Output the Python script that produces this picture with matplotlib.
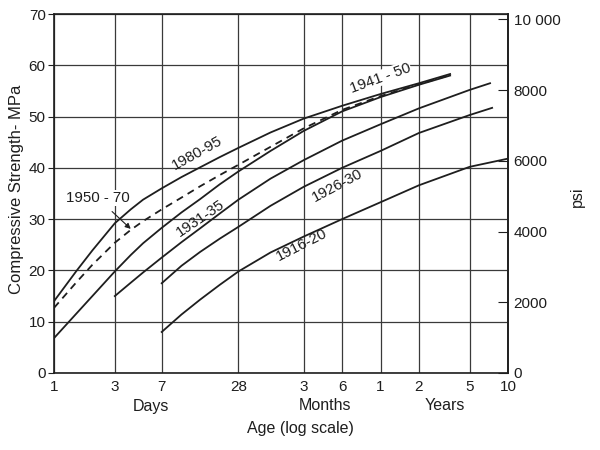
import matplotlib
matplotlib.use('Agg')
from matplotlib import pyplot as plt
from matplotlib.ticker import FixedLocator, FixedFormatter, NullLocator

plt.rcParams['font.family'] = ['Liberation Sans', 'DejaVu Sans']

# ages in days, strengths in MPa
d_1980 = [1, 1.5, 2, 3, 4, 5, 7, 10, 14, 20, 28, 50, 91, 182, 365, 730, 1283]
s_1980 = [14.0, 19.9, 23.9, 29.2, 31.9, 33.8, 36.0, 38.2, 40.1, 42.1, 43.9, 46.9, 49.6, 52.1, 54.4, 56.5, 58.3]

d_1950 = [1, 1.5, 2, 3, 4, 5, 7, 10, 14, 20, 28, 50, 91, 182, 365, 730, 1283]
s_1950 = [12.7, 17.7, 21.1, 25.4, 27.9, 29.6, 31.9, 34.2, 36.4, 38.6, 40.6, 44.1, 47.7, 51.3, 54.0, 56.3, 58.1]

d_1941 = [1, 1.5, 2, 3, 4, 5, 7, 10, 14, 20, 28, 50, 91, 182, 365, 730, 1283]
s_1941 = [6.8, 11.6, 15.0, 19.8, 23.0, 25.3, 28.3, 31.3, 33.9, 36.8, 39.3, 43.3, 47.2, 51.0, 53.8, 56.2, 58.0]

d_1931 = [3, 4, 5, 7, 10, 14, 20, 28, 50, 91, 182, 365, 730, 1825, 2640]
s_1931 = [15.0, 17.6, 19.6, 22.5, 25.5, 28.2, 31.1, 33.8, 37.9, 41.5, 45.3, 48.5, 51.6, 55.2, 56.5]

d_1926 = [7, 10, 14, 20, 28, 50, 91, 182, 365, 730, 1825, 2740]
s_1926 = [17.5, 20.9, 23.6, 26.2, 28.5, 32.6, 36.3, 40.0, 43.3, 46.8, 50.3, 51.7]

d_1916 = [7, 10, 14, 20, 28, 50, 91, 182, 365, 730, 1825, 3650]
s_1916 = [8.0, 11.4, 14.3, 17.2, 19.8, 23.5, 26.6, 30.0, 33.3, 36.6, 40.2, 41.8]

age_ticks  = [1, 3, 7, 28, 91, 182, 365, 730, 1825, 3650]
age_labels = ['1', '3', '7', '28', '3', '6', '1', '2', '5', '10']
mpa_ticks  = [0, 10, 20, 30, 40, 50, 60, 70]
psi_ticks  = [0, 2000, 4000, 6000, 8000, 10000]
psi_labels = ['0', '2000', '4000', '6000', '8000', '10 000']

ink  = '#1e1e1e'
grid = '#3a3a3a'
fs   = 11      # tick labels
fl   = 11.5    # axis texts
fc   = 10.8    # curve labels

fig = plt.figure(figsize=(6, 4.5), dpi=100)
ax = fig.add_axes([54/600, 1-373/450, 454/600, 359/450])

ax.set_xscale('log')
ax.set_xlim(1, 3650)
ax.set_ylim(0, 70)

ax.xaxis.set_major_locator(FixedLocator(age_ticks))
ax.xaxis.set_major_formatter(FixedFormatter(age_labels))
ax.xaxis.set_minor_locator(NullLocator())
ax.set_yticks(mpa_ticks)
ax.tick_params(axis='x', length=0, pad=5, labelsize=fs, colors=ink)
ax.tick_params(axis='y', direction='out', length=4, pad=2, labelsize=fs, colors=ink)
ax.grid(True, color=grid, lw=0.9)
for s in ax.spines.values():
	s.set_color(ink), s.set_linewidth(1.2)

lw = 1.3
ax.plot(d_1980, s_1980, color=ink, lw=lw)
ax.plot(d_1950, s_1950, color=ink, lw=lw, ls=(0, (4, 3)))
ax.plot(d_1941, s_1941, color=ink, lw=lw)
ax.plot(d_1931, s_1931, color=ink, lw=lw)
ax.plot(d_1926, s_1926, color=ink, lw=lw)
ax.plot(d_1916, s_1916, color=ink, lw=lw)

# curve labels
box = dict(facecolor='white', edgecolor='none', pad=0.5)
ax.text(13.3, 42.9, '1980-95', rotation=29, ha='center', va='center', fontsize=fc, color=ink)
ax.text(14.0, 30.2, '1931-35', rotation=34, ha='center', va='center', fontsize=fc, color=ink)
ax.text(362, 57.5, '1941 - 50', rotation=20, ha='center', va='center', fontsize=fc, color=ink, bbox=box)
ax.text(167, 36.6, '1926-30', rotation=28, ha='center', va='center', fontsize=fc, color=ink)
ax.text(88.6, 25.0, '1916-20', rotation=27, ha='center', va='center', fontsize=fc, color=ink)
ax.annotate('1950 - 70', xy=(4.0, 28.1), xytext=(2.2, 34.1), ha='center', va='center',
            fontsize=fc, color=ink, bbox=box,
            arrowprops=dict(arrowstyle='-|>', color=ink, lw=0.8, shrinkA=6, shrinkB=0, mutation_scale=8))

# psi axis on the right
sec = ax.secondary_yaxis('right', functions=(lambda m: m*145.04, lambda p: p/145.04))
sec.set_yticks(psi_ticks)
sec.set_yticklabels(psi_labels)
sec.tick_params(direction='in', length=7, pad=4, labelsize=fs, colors=ink)
sec.spines['right'].set_color(ink)
sec.spines['right'].set_linewidth(1.2)

fig.text(17/600, 1-189/450, 'Compressive Strength- MPa', rotation=90, ha='center', va='center', fontsize=12, color=ink)
fig.text(577/600, 1-197/450, 'psi', rotation=90, ha='center', va='center', fontsize=fl, color=ink)
fig.text(151/600, 1-406/450, 'Days', ha='center', va='center', fontsize=fl, color=ink)
fig.text(325/600, 1-406/450, 'Months', ha='center', va='center', fontsize=fl, color=ink)
fig.text(445/600, 1-406/450, 'Years', ha='center', va='center', fontsize=fl, color=ink)
fig.text(300/600, 1-428/450, 'Age (log scale)', ha='center', va='center', fontsize=fl, color=ink)

fig.savefig('out.png', dpi=100)
